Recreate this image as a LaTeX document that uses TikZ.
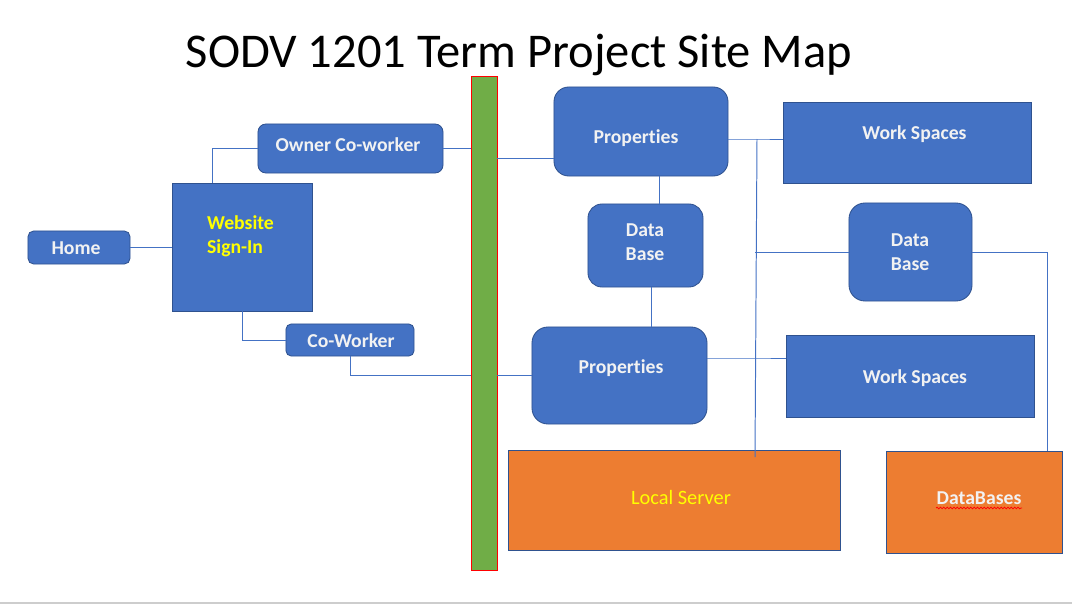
\documentclass[tikz,border=0pt]{standalone}
\usepackage{fontspec}
\setmainfont{Carlito}[Ligatures=NoCommon]
\usetikzlibrary{calc, decorations.pathmorphing}
\definecolor{boxblue}{RGB}{68, 114, 196}
\definecolor{edgeblue}{RGB}{47, 82, 143}
\definecolor{boxorange}{RGB}{237, 125, 49}
\definecolor{bargreen}{RGB}{112, 173, 71}
\definecolor{barred}{RGB}{255, 0, 0}
\definecolor{paletext}{RGB}{242, 242, 242}
\definecolor{signyellow}{RGB}{255, 255, 0}
\definecolor{edgegray}{RGB}{205, 205, 205}

\tikzset{
  bluebox/.style={draw=edgeblue, fill=boxblue, line width=0.6pt, inner sep=0pt},
  orangebox/.style={draw=edgeblue, fill=boxorange, line width=0.6pt, inner sep=0pt},
  boxtext/.style={text=paletext, font=\fontsize{14}{17}\selectfont\bfseries, inner sep=0pt, anchor=base},
  link/.style={draw=boxblue, line width=0.7pt},
}

\begin{document}
\begin{tikzpicture}[x=0.025cm, y=-0.025cm]
  \useasboundingbox (0,0) rectangle (1072,605);

  % Title
  \node[font=\fontsize{34.5}{40}\selectfont, inner sep=0pt, anchor=base] (title) at (519,67) {SODV 1201 Term Project Site Map};

  % Sign-in side
  \node[bluebox, rounded corners=0.14cm, minimum width=2.55cm, minimum height=0.825cm] (home) at (79,247.5) {};
  \node[boxtext] (hometxt) at (76,254) {Home};
  \node[bluebox, minimum width=3.5cm, minimum height=3.2cm] (signin) at (242,247) {};
  \node[boxtext, text=signyellow, anchor=center, align=left] (signintxt) at (240.5,236) {Website\\Sign-In};
  \node[bluebox, rounded corners=0.2cm, minimum width=4.625cm, minimum height=1.225cm] (owner) at (350.5,148.5) {};
  \node[boxtext] (ownertxt) at (348,151) {Owner Co-worker};
  \node[bluebox, rounded corners=0.13cm, minimum width=3.2cm, minimum height=0.8cm] (cowork) at (350,340) {};
  \node[boxtext] (coworktxt) at (351,347) {Co-Worker};

  % Green bar
  \node[draw=barred, fill=bargreen, line width=0.6pt, inner sep=0pt, minimum width=0.65cm, minimum height=12.35cm] (bar) at (484,323) {};

  % Properties and data bases
  \node[bluebox, rounded corners=0.37cm, minimum width=4.35cm, minimum height=2.225cm] (ptop) at (641,131.5) {};
  \node[boxtext] (ptoptxt) at (636,143) {Properties};
  \node[bluebox, rounded corners=0.35cm, minimum width=2.875cm, minimum height=2.075cm] (dbmid) at (645.5,245.5) {};
  \node[boxtext, anchor=center, align=center] (dbmidtxt) at (645,242) {Data\\Base};
  \node[bluebox, rounded corners=0.4cm, minimum width=4.375cm, minimum height=2.425cm] (pbot) at (619.5,375.5) {};
  \node[boxtext] (pbottxt) at (621,373) {Properties};

  % Work spaces
  \node[bluebox, minimum width=6.2cm, minimum height=2.025cm] (wstop) at (907,142.5) {};
  \node[boxtext] (wstoptxt) at (914.5,139) {Work Spaces};
  \node[bluebox, rounded corners=0.4cm, minimum width=3.075cm, minimum height=2.45cm] (dbright) at (910.5,252) {};
  \node[boxtext, anchor=center, align=center] (dbrighttxt) at (910,252) {Data\\Base};
  \node[bluebox, minimum width=6.2cm, minimum height=2.05cm] (wsbot) at (910,376) {};
  \node[boxtext] (wsbottxt) at (915,383) {Work Spaces};

  % Servers
  \node[orangebox, minimum width=8.3cm, minimum height=2.5cm] (local) at (674,500) {};
  \node[boxtext, text=signyellow, font=\fontsize{14.5}{17}\selectfont] (localtxt) at (681,504) {Local Server};
  \node[orangebox, minimum width=4.4cm, minimum height=2.55cm] (dbases) at (974,502) {};
  \node[boxtext, font=\fontsize{14}{17}\selectfont\bfseries] (dbasestxt) at (979,504) {DataBases};
  \draw[barred, line width=0.5pt, decorate, decoration={snake, amplitude=0.6pt, segment length=2.4pt}] (936,508) -- (1022,508);

  % Connectors, left
  \draw[link] (home.east) -- (home.east -| signin.west);
  \draw[link] ($(signin.north west)+(41,0)$) |- (owner.west);
  \draw[link] ($(signin.south west)+(71,0)$) |- (cowork.west);
  \draw[link] (owner.east) -- (owner.east -| bar.west);
  \draw[link] (cowork.south) |- (bar.west |- pbot.west);

  % Connectors, right of the bar
  \coordinate (pin) at (554,158);
  \draw[link] (bar.east |- pin) -- (pin);
  \draw[link] (bar.east |- pbot.west) -- (pbot.west);
  \draw[link] ([xshift=0.35cm]dbmid.north) -- ([xshift=0.35cm]dbmid.north |- ptop.south);
  \draw[link] ([xshift=0.16cm]dbmid.south) -- ([xshift=0.16cm]dbmid.south |- pbot.north);

  % Bus to work spaces and servers
  \coordinate (bustop) at (757,139);
  \coordinate (busmid) at (756,358);
  \coordinate (busend) at (755,457);
  \draw[link] (ptop.east |- bustop) -- (bustop) -- (wstop.west |- bustop);
  \draw[link] (bustop) -- (busend);
  \draw[link] (pbot.east |- busmid) -- (busmid) -- (wsbot.west |- busmid);
  \draw[link] (dbright.west) -- (dbright.west -| busend);
  \draw[link] (dbright.east) -| ([xshift=-0.375cm]dbases.north east);

  % Slide edge
  \draw[edgegray, line width=1pt] (0,603) -- (1072,603);
\end{tikzpicture}
\end{document}
